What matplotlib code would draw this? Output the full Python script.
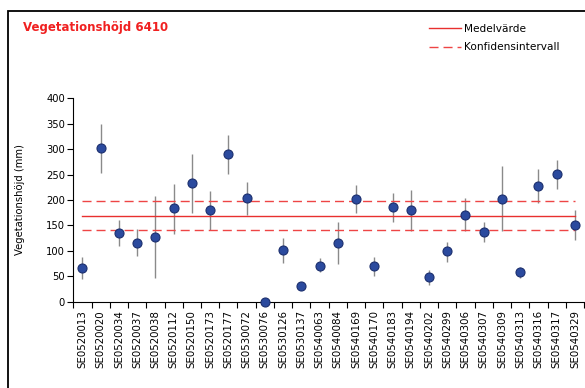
'''
Vegetationshöjd per provyta, habitat 6410
'''
# Imports
import matplotlib
matplotlib.use('Agg')
import matplotlib.pyplot as plt
from matplotlib.patches import Rectangle
import numpy as np

# Data
sites = ['SE0520013', 'SE0520020', 'SE0520034', 'SE0520037', 'SE0520038', 'SE0520112',
         'SE0520150', 'SE0520173', 'SE0520177', 'SE0530072', 'SE0530076', 'SE0530126',
         'SE0530137', 'SE0540063', 'SE0540084', 'SE0540169', 'SE0540170', 'SE0540183',
         'SE0540194', 'SE0540202', 'SE0540299', 'SE0540306', 'SE0540307', 'SE0540309',
         'SE0540313', 'SE0540316', 'SE0540317', 'SE0540329']
heights = [67, 302, 135, 116, 128, 184, 233, 180, 290, 204, 0, 101,
           31, 71, 116, 202, 70, 187, 180, 49, 99, 171, 138, 202,
           58, 228, 251, 151]
upper = [88, 349, 161, 142, 208, 231, 290, 218, 328, 236, 0, 125,
         38, 85, 157, 230, 87, 214, 220, 62, 118, 204, 157, 267,
         69, 260, 279, 180]
lower = [44, 254, 110, 90, 47, 133, 175, 141, 252, 170, 0, 77,
         25, 59, 75, 175, 51, 157, 140, 33, 79, 140, 118, 140,
         46, 195, 221, 121]
mean_value = 169
ci_low = 140.5
ci_high = 197.5

yticks = [0, 50, 100, 150, 200, 250, 300, 350, 400]

# Figure
W, H = 585, 388
fig = plt.figure(figsize=(W / 100, H / 100), dpi=100)
plt.rcParams['font.family'] = ['DejaVu Sans']

# outer frame, runs off the right and bottom edges
fig.patches.append(Rectangle((7.5 / W, -0.1), 1.2, 1 - 10.5 / H + 0.1,
                             transform=fig.transFigure, fill=False,
                             edgecolor='black', linewidth=1.3))

ax = fig.add_axes([73.3 / W, 1 - 301.7 / H, (28 * 18.24) / W, 203.4 / H])

x = np.arange(len(sites))
h = np.array(heights)
err = [h - np.array(lower), np.array(upper) - h]

ax.errorbar(x, h, yerr=err, fmt='none', ecolor='#8a8a8a', elinewidth=1.0,
            capsize=0, zorder=2)
ax.plot(x, h, 'o', markersize=6.5, markerfacecolor='#2b4a9e',
        markeredgecolor='#1c2f6e', markeredgewidth=0.8, zorder=4, clip_on=False)

mean_line, = ax.plot([x[0], x[-1]], [mean_value, mean_value], color='#e8302f',
                     linewidth=1.0, zorder=3, label='Medelvärde')
ci_line, = ax.plot([x[0], x[-1]], [ci_high, ci_high], color='#ee4545',
                   linewidth=1.0, dashes=(6.5, 3.6), zorder=3, label='Konfidensintervall')
ax.plot([x[0], x[-1]], [ci_low, ci_low], color='#ee4545',
        linewidth=1.0, dashes=(6.5, 3.6), zorder=3)

ax.set_xlim(-0.5, len(sites) - 0.5)
ax.set_ylim(0, 400)
ax.set_yticks(yticks)
ax.tick_params(axis='y', labelsize=7.2, length=4, width=0.8, pad=2, colors='black')

# ticks between categories, labels at the categories
ax.set_xticks(np.arange(len(sites) + 1) - 0.5)
ax.set_xticklabels([])
ax.set_xticks(x, minor=True)
ax.set_xticklabels(sites, minor=True, rotation=90, fontsize=7.4)
ax.tick_params(axis='x', which='major', length=4, width=0.8)
ax.tick_params(axis='x', which='minor', length=0, pad=6)

for s in ['top', 'right']:
    ax.spines[s].set_visible(False)
ax.spines['left'].set_linewidth(0.8)
ax.spines['bottom'].set_linewidth(0.8)

fig.text(20 / W, 1 - 200 / H, 'Vegetationshöjd (mm)', rotation=90,
         ha='center', va='center', fontsize=7.2)
fig.text(23 / W, 1 - 28 / H, 'Vegetationshöjd 6410', color='#f02020',
         fontsize=8.5, fontweight='bold', ha='left', va='center')

fig.legend(handles=[mean_line, ci_line], loc='upper left',
           bbox_to_anchor=(429 / W, 1 - 23.5 / H), frameon=False, fontsize=7.6,
           handlelength=3.0, handletextpad=0.3, labelspacing=0.85,
           borderaxespad=0, borderpad=0)

fig.savefig('out.png', dpi=100)
